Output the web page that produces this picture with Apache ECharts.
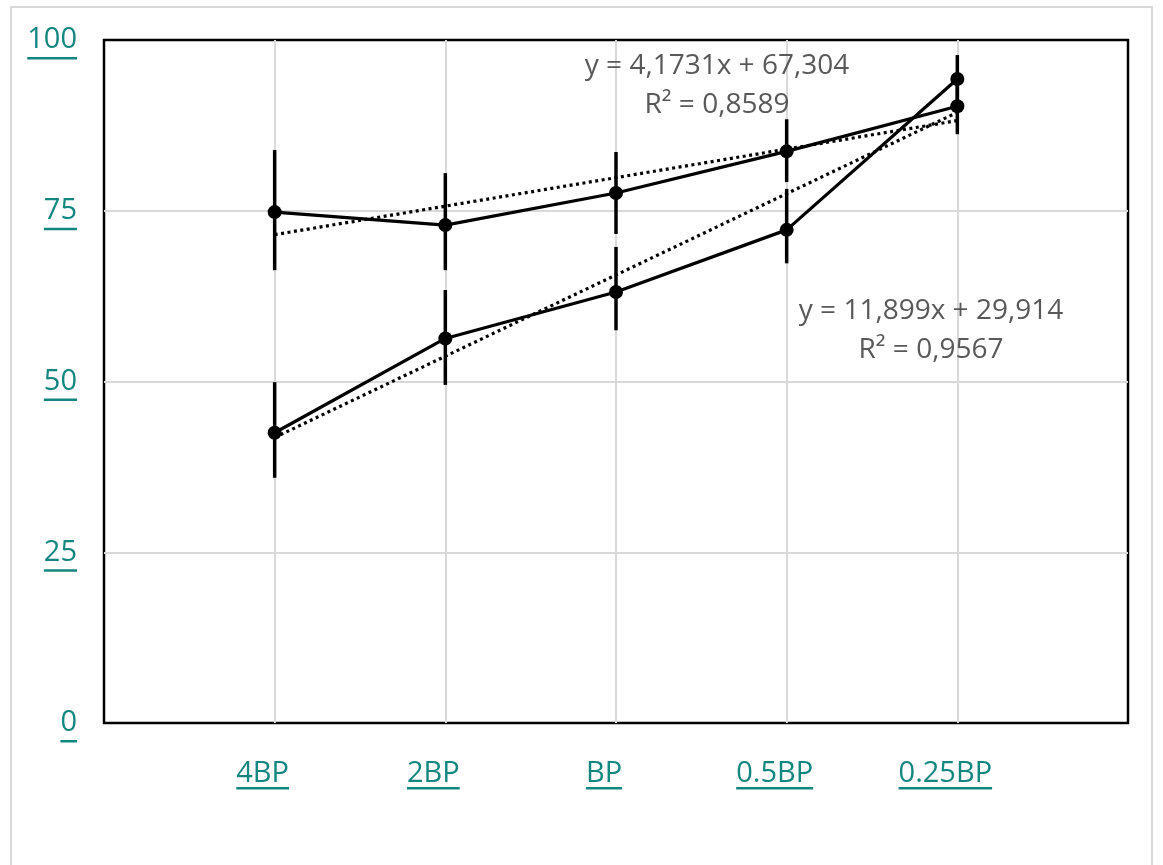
<!DOCTYPE html>
<html>
<head>
<meta charset="utf-8">
<script src="https://cdn.jsdelivr.net/npm/echarts@6/dist/echarts.min.js"></script>
<style>
  html, body { margin: 0; padding: 0; background: #fff; }
  #chart { width: 1163px; height: 865px; }
</style>
</head>
<body>
<div id="chart"></div>
<script>
// categories on the x axis (placed at 1..5 on a 0..6 value axis)
const categories = ['4BP', '2BP', 'BP', '0.5BP', '0.25BP']
const yTicks = [0, 25, 50, 75, 100]

// upper series and its error bars
const upperValues = [74.8, 72.9, 77.6, 83.7, 90.3]
const upperErrPlus = [9.1, 7.6, 6.0, 4.7, 4.1]
const upperErrMinus = [8.5, 6.6, 6.0, 4.5, 4.1]

// lower series and its error bars
const lowerValues = [42.5, 56.3, 63.1, 72.2, 94.3]
const lowerErrPlus = [7.4, 7.1, 6.6, 6.0, 3.5]
const lowerErrMinus = [6.6, 6.8, 5.6, 4.9, 3.5]

// linear trendlines, values at first and last category
const upperTrend = [71.5, 88.2]
const lowerTrend = [41.8, 89.4]

const upperEq = ['y = 4,1731x + 67,304', 'R² = 0,8589']
const lowerEq = ['y = 11,899x + 29,914', 'R² = 0,9567']

const TEAL = '#148680'
const FONT = '"Open Sans"'
const FS = 29
const LABEL_SHIFT = 12

const toPoints = (vals) => vals.map((v, i) => [i + 1, v])
const toErr = (vals, plus, minus) => vals.map((v, i) => [i + 1, v - minus[i], v + plus[i]])

const errorBars = (name, data) => ({
  name,
  type: 'custom',
  z: 3,
  data,
  renderItem: (params, api) => {
    const lo = api.coord([api.value(0), api.value(1)])
    const hi = api.coord([api.value(0), api.value(2)])
    return {
      type: 'line',
      shape: { x1: lo[0], y1: lo[1], x2: hi[0], y2: hi[1] },
      style: { stroke: '#000', lineWidth: 3.5 }
    }
  }
})

const lineSeries = (name, vals) => ({
  name,
  type: 'line',
  z: 4,
  data: toPoints(vals),
  symbol: 'circle',
  symbolSize: 14,
  itemStyle: { color: '#000' },
  lineStyle: { color: '#000', width: 3.2 }
})

const trendSeries = (name, vals) => ({
  name,
  type: 'line',
  z: 2,
  data: [[1, vals[0]], [categories.length, vals[1]]],
  symbol: 'none',
  lineStyle: { color: '#000', width: 3.2, type: [3, 3.5] }
})

const chart = echarts.init(document.getElementById('chart'))

const option = {
  animation: false,
  backgroundColor: '#fff',
  grid: {
    left: 104,
    right: 35,
    top: 40,
    bottom: 142,
    show: true,
    borderColor: '#000',
    borderWidth: 2.5
  },
  xAxis: {
    type: 'value',
    min: 0,
    max: 6,
    interval: 1,
    axisLine: { show: false },
    axisTick: { show: false },
    axisLabel: {
      color: TEAL,
      fontSize: FS,
      fontFamily: FONT,
      lineHeight: 28,
      margin: 37,
      padding: [0, LABEL_SHIFT * 2, 0, 0],
      formatter: (v) => categories[v - 1] || ''
    },
    splitLine: {
      show: true,
      lineStyle: {
        width: 2,
        color: ['rgba(0,0,0,0)', '#d9d9d9', '#d9d9d9', '#d9d9d9', '#d9d9d9', '#d9d9d9', 'rgba(0,0,0,0)']
      }
    }
  },
  yAxis: {
    type: 'value',
    min: yTicks[0],
    max: yTicks[yTicks.length - 1],
    interval: 25,
    axisLine: { show: false },
    axisTick: { show: false },
    axisLabel: {
      color: TEAL,
      fontSize: FS,
      fontFamily: FONT,
      margin: 27,
      padding: [8, 0, 0, 0]
    },
    splitLine: {
      show: true,
      lineStyle: {
        width: 2,
        color: ['rgba(0,0,0,0)', '#d9d9d9', '#d9d9d9', '#d9d9d9', 'rgba(0,0,0,0)']
      }
    }
  },
  series: [
    trendSeries('upper trend', upperTrend),
    trendSeries('lower trend', lowerTrend),
    errorBars('upper err', toErr(upperValues, upperErrPlus, upperErrMinus)),
    errorBars('lower err', toErr(lowerValues, lowerErrPlus, lowerErrMinus)),
    lineSeries('upper', upperValues),
    lineSeries('lower', lowerValues)
  ]
}

chart.setOption(option)

// underline the axis labels, as in the original
const ctx = document.createElement('canvas').getContext('2d')
ctx.font = FS + 'px ' + FONT
const textW = (t) => ctx.measureText(t).width

const underline = (x1, x2, y) => ({
  type: 'rect',
  shape: { x: x1, y: y, width: x2 - x1, height: 2.5 },
  style: { fill: TEAL },
  silent: true
})

const graphics = []
const xAxisY = chart.convertToPixel({ yAxisIndex: 0 }, 0)
categories.forEach((c, i) => {
  const cx = chart.convertToPixel({ xAxisIndex: 0 }, i + 1) - LABEL_SHIFT
  const w = textW(c)
  graphics.push(underline(cx - w / 2, cx + w / 2, xAxisY + 37 + 27))
})
const yLabelRight = 104 - 27
yTicks.forEach((t) => {
  const cy = chart.convertToPixel({ yAxisIndex: 0 }, t) + 4
  const w = textW(String(t))
  graphics.push(underline(yLabelRight - w, yLabelRight, cy + 13))
})

const eqText = (text, x, y) => ({
  type: 'text',
  x: x,
  y: y,
  silent: true,
  style: {
    text: text,
    fill: '#595959',
    font: '28px ' + FONT,
    align: 'center',
    verticalAlign: 'middle'
  }
})

graphics.push(
  eqText(upperEq[0], 717, 66),
  eqText(upperEq[1], 717, 105),
  eqText(lowerEq[0], 931, 311),
  eqText(lowerEq[1], 931, 350),
  {
    type: 'rect',
    shape: { x: 11, y: 7, width: 1141, height: 900 },
    style: { fill: 'none', stroke: '#d9d9d9', lineWidth: 2 },
    silent: true,
    z: -10
  }
)

chart.setOption({ graphic: graphics })
</script>
</body>
</html>
